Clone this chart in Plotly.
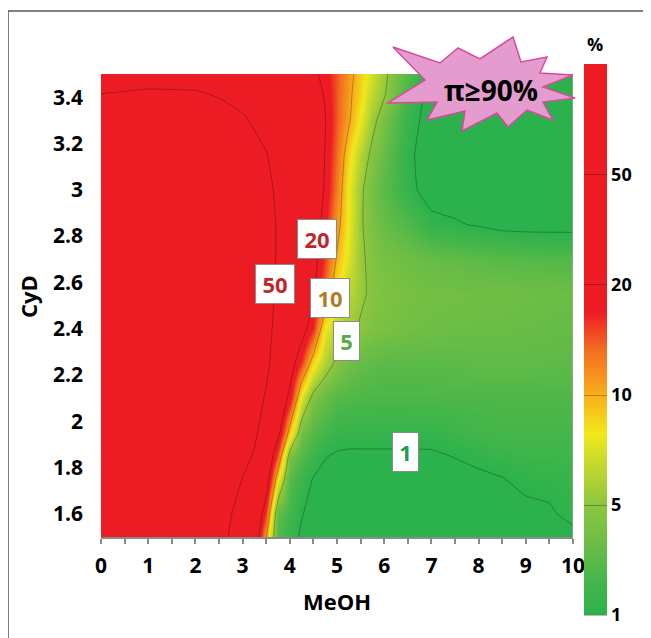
import numpy as np
import plotly.graph_objects as go

# ---------------- data ----------------
MEOH = [0, 1, 2, 2.5, 3, 3.25, 3.5, 3.75, 4, 4.25, 4.5, 4.75, 5, 5.25, 5.5,
        5.75, 6, 6.5, 7, 7.5, 8, 8.5, 9, 9.5, 10]
CYD = [1.5, 1.6, 1.75, 1.85, 1.95, 2.1, 2.25, 2.4, 2.55, 2.7, 2.85, 3.0,
       3.15, 3.3, 3.42, 3.5]

# impurity (%) per CyD row, one value per MeOH column
pct_150 = [76, 76, 66, 57, 38, 31.6, 10.4, 1.9, 1.27, 0.92, 0.82, 0.79, 0.75, 0.72, 0.72,
           0.72, 0.72, 0.72, 0.72, 0.74, 0.76, 0.8, 0.82, 0.85, 0.85]
pct_160 = [76, 76, 68, 59, 41.6, 39.8, 15.2, 2.42, 1.5, 1.03, 0.85, 0.79, 0.76, 0.75, 0.75,
           0.75, 0.75, 0.75, 0.75, 0.76, 0.78, 0.82, 0.87, 0.93, 1.17]
pct_175 = [76, 76, 71, 64, 49.5, 43.6, 28.9, 8.1, 2.06, 1.34, 0.97, 0.85, 0.82, 0.82, 0.82,
           0.82, 0.82, 0.82, 0.82, 0.84, 0.88, 0.98, 1.14, 1.17, 1.27]
pct_185 = [75.8, 75.8, 73.2, 68.3, 55.5, 47.8, 36.3, 14.1, 3.62, 2.06, 1.38, 1.03, 0.94, 0.92, 0.92,
           0.92, 0.92, 0.92, 0.93, 1.02, 1.17, 1.27, 1.38, 1.38, 1.42]
pct_195 = [75.8, 75.8, 73.2, 70.7, 61.6, 53.6, 38, 24, 8.7, 3.09, 2.06, 1.62, 1.27, 1.21, 1.21,
           1.21, 1.21, 1.21, 1.21, 1.38, 1.5, 1.62, 1.62, 1.62, 1.62]
pct_210 = [75.8, 75.8, 75.8, 70.7, 63.7, 57.4, 47.8, 33.1, 18.0, 7.07, 3.93, 2.63, 2.06, 1.9, 1.84,
           1.78, 1.78, 1.78, 1.8, 1.84, 1.84, 1.84, 1.84, 1.84, 1.84]
pct_225 = [75.8, 75.8, 75.8, 73.2, 66, 61.6, 53.6, 39.8, 26.3, 15.2, 8.4, 5.95, 4.26, 3.09, 2.63,
           2.42, 2.24, 2.24, 2.24, 2.3, 2.4, 2.4, 2.4, 2.35, 2.3]
pct_240 = [75.8, 75.8, 75.8, 73.2, 68.3, 63.7, 55.5, 43.6, 33.1, 25.1, 16.2, 7.58, 6.16, 5.43, 4.6,
           3.93, 3.62, 3.19, 2.99, 2.89, 2.84, 2.76, 2.71, 2.63, 2.54]
pct_255 = [75.8, 75.8, 75.8, 73.2, 68.3, 63.7, 57.4, 45.6, 36.3, 28.9, 21.9, 13.2, 7.58, 6.16, 5.28,
           4.39, 3.93, 3.51, 3.29, 3.19, 3.09, 3.09, 2.99, 2.89, 2.84]
pct_270 = [75.8, 75.8, 75.8, 73.2, 68.3, 63.7, 57.4, 47.8, 38, 31.6, 24, 15.2, 9.66, 7.07, 5.28,
           4.12, 3.51, 2.99, 2.63, 2.42, 2.24, 2.13, 2.06, 2.0, 1.97]
pct_285 = [75.8, 75.8, 75.8, 73.2, 68.3, 63.7, 57.4, 47.8, 38.7, 33.1, 26.3, 17.4, 11.1, 7.58, 5.18,
           3.62, 2.63, 1.9, 1.17, 1.05, 0.95, 0.85, 0.82, 0.82, 0.82]
pct_300 = [75.8, 75.8, 75.8, 70.7, 66, 61.6, 55.5, 45.6, 38, 33.1, 27.6, 19.3, 12.3, 7.58, 5.28,
           3.34, 2.24, 1.17, 0.79, 0.79, 0.72, 0.7, 0.7, 0.7, 0.7]
pct_315 = [73.2, 73.2, 70.7, 66, 59.5, 54.3, 50.7, 43.6, 37.3, 32.1, 27.6, 19.8, 13.2, 8.4, 5.95,
           4.26, 2.63, 1.1, 0.79, 0.72, 0.7, 0.7, 0.7, 0.7, 0.7]
pct_330 = [66, 66, 61.6, 57.4, 51.8, 47.8, 43.6, 38.7, 34.7, 31.0, 26.8, 20.4, 14.1, 10.4, 7.58,
           5.43, 3.62, 1.27, 0.79, 0.72, 0.7, 0.7, 0.7, 0.7, 0.7]
pct_342 = [49.1, 51.8, 51.0, 47.8, 43.6, 40.9, 37.3, 34.0, 31.0, 28.3, 24.5, 19.3, 14.1, 10.7, 8.4,
           6.37, 5.18, 1.62, 0.79, 0.72, 0.7, 0.7, 0.7, 0.7, 0.7]
pct_350 = [39.8, 40.9, 40.9, 38.7, 35.3, 33.1, 31.0, 28.9, 26.7, 24.5, 21.9, 18.0, 14.1, 11.1, 8.7,
           6.83, 5.36, 2.06, 0.88, 0.75, 0.7, 0.7, 0.7, 0.7, 0.7]

LEVELS = [1, 5, 10, 20, 50, 100]
LEVEL_TEXT = ["1", "5", "10", "20", "50"]
X_TICKS = [0, 1, 2, 3, 4, 5, 6, 7, 8, 9, 10]
Y_TICKS = [1.6, 1.8, 2.0, 2.2, 2.4, 2.6, 2.8, 3.0, 3.2, 3.4]
Y_TICK_TEXT = ["1.6", "1.8", "2", "2.2", "2.4", "2.6", "2.8", "3", "3.2", "3.4"]

pct = [pct_150, pct_160, pct_175, pct_185, pct_195, pct_210, pct_225, pct_240,
       pct_255, pct_270, pct_285, pct_300, pct_315, pct_330, pct_342, pct_350]

# colour bar is evenly spaced between the levels 1,5,10,20,50,100
lv = np.log10(LEVELS)


def to_level_scale(v):
    v = np.asarray(v, dtype=float)
    lg = np.log10(v)
    t = np.interp(lg, lv, np.arange(len(LEVELS), dtype=float))
    low = v < 1
    t[low] = lg[low] / lv[1]
    return t


T = to_level_scale(pct)

# ---------------- layout geometry ----------------
# page has an 8px body margin, so the figure is drawn 8px in from the corner
OFF = 8
W, H = 651 - OFF, 638 - OFF
ML, MT = 101 - OFF, 74 - OFF
PW, PH = 472, 463
MR, MB = W - ML - PW, H - MT - PH
PL_PAGE, PB_PAGE = ML + OFF, MT + OFF + PH


def px(xp):  # page pixel x -> paper
    return (xp - PL_PAGE) / PW


def py(yp):  # page pixel y -> paper
    return (PB_PAGE - yp) / PH


FONT = "Open Sans, Liberation Sans, DejaVu Sans, sans-serif"

colorscale = [
    [0.00, "#2bb24c"],
    [0.06, "#45b649"],
    [0.12, "#66bc46"],
    [0.20, "#8dc63f"],
    [0.27, "#c2d82e"],
    [0.33, "#f2e81a"],
    [0.40, "#f8ad1b"],
    [0.48, "#f36f21"],
    [0.55, "#ed1c24"],
    [1.00, "#ed1c24"],
]

fig = go.Figure()
fig.add_trace(go.Contour(
    x=MEOH, y=CYD, z=T,
    zmin=0, zmax=5, zauto=False,
    colorscale=colorscale,
    contours=dict(start=0, end=4, size=1, coloring="heatmap", showlines=True),
    line=dict(color="rgba(0,0,0,0.27)", width=1, smoothing=0.3),
    colorbar=dict(
        x=px(584), xanchor="left", xpad=0, ypad=0,
        y=py((64 + 615) / 2), yanchor="middle",
        thickness=23, thicknessmode="pixels",
        len=551, lenmode="pixels",
        tickvals=[0, 1, 2, 3, 4], ticktext=LEVEL_TEXT,
        ticks="", ticklen=0,
        tickfont=dict(family=FONT, size=18, color="black", weight="bold"),
        outlinewidth=0,
    ),
    hoverinfo="skip",
))

# starburst (page pixel vertices)
star = [(393, 47), (440, 63), (458, 48), (480, 59), (513, 37), (521, 62), (547, 57),
        (540, 73), (573, 75), (543, 87), (575, 98), (543, 102), (553, 120), (527, 110),
        (508, 127), (497, 113), (462, 131), (465, 111), (427, 120), (437, 102), (388, 103),
        (425, 80)]
path = "M " + " L ".join(f"{px(a):.4f},{py(b):.4f}" for a, b in star) + " Z"

shapes = [
    dict(type="rect", xref="paper", yref="paper", x0=px(8), y0=py(700), x1=px(720), y1=py(11),
         line=dict(color="#555555", width=1.5), fillcolor="rgba(0,0,0,0)", layer="below"),
    dict(type="line", xref="x", yref="y", x0=10, x1=10, y0=1.5, y1=3.5,
         line=dict(color="#a0a0a0", width=1.5)),
    dict(type="path", xref="paper", yref="paper", path=path,
         fillcolor="#e49bcd", line=dict(color="#d84a9c", width=1.5), layer="above"),
]


def txt_ann(text, xp, yp, size, angle=0):
    return dict(text=text, x=px(xp), y=py(yp), xref="paper", yref="paper",
                xanchor="center", yanchor="middle", showarrow=False, textangle=angle,
                font=dict(family=FONT, size=size, color="black", weight="bold"))


annotations = [
    txt_ann("π≥90%", 491, 90, 28),
    txt_ann("MeOH", 337, 601, 22),
    txt_ann("CyD", 28, 297, 22, -90),
    txt_ann("%", 595, 44, 18),
]

label_boxes = [
    ("20", 4.57, 2.789, "#c0272d", 28),
    ("50", 3.69, 2.594, "#c0272d", 28),
    ("10", 4.86, 2.534, "#b07d2a", 28),
    ("5", 5.21, 2.346, "#5da944", 15),
    ("1", 6.45, 1.868, "#1ea04a", 15),
]
for txt, xv, yv, col, wd in label_boxes:
    annotations.append(dict(
        text=txt, x=xv, y=yv, xref="x", yref="y", showarrow=False,
        xanchor="center", yanchor="middle",
        width=wd, height=28, bgcolor="white", bordercolor="#8a8a8a", borderwidth=1,
        borderpad=5, font=dict(family=FONT, size=22, color=col, weight="bold")))

fig.update_layout(
    width=W, height=H,
    margin=dict(l=ML, r=MR, t=MT, b=MB, autoexpand=False),
    paper_bgcolor="white", plot_bgcolor="white",
    showlegend=False,
    shapes=shapes,
    annotations=annotations,
    xaxis=dict(
        range=[0, 10], tickvals=X_TICKS, ticktext=[str(v) for v in X_TICKS],
        ticks="outside", ticklen=5, tickcolor="#8a8a8a", tickwidth=1.5,
        minor=dict(ticks="outside", ticklen=5, dtick=0.5, tickcolor="#8a8a8a", tickwidth=1.5),
        showline=True, linecolor="#8a8a8a", linewidth=1.5,
        showgrid=False, zeroline=False,
        tickfont=dict(family=FONT, size=21, color="black", weight="bold"),
        ticklabelstandoff=4,
    ),
    yaxis=dict(
        range=[1.5, 3.5], tickvals=Y_TICKS, ticktext=Y_TICK_TEXT,
        ticks="", showline=False, showgrid=False, zeroline=False,
        tickfont=dict(family=FONT, size=21, color="black", weight="bold"),
        ticklabelstandoff=17,
    ),
)

fig.write_html("out.html")
